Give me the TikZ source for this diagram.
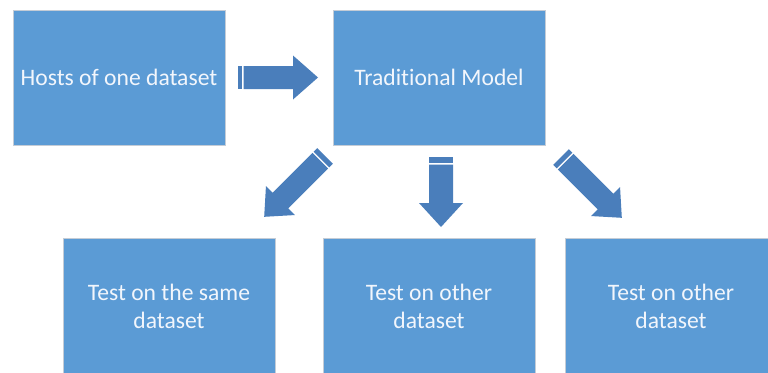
\documentclass[tikz,border=0pt]{standalone}
\usepackage{fontspec}
\setmainfont{Carlito}[Ligatures=NoCommon]
\definecolor{boxblue}{RGB}{91,155,213}
\definecolor{arrowblue}{RGB}{74,126,187}
\definecolor{boxedge}{RGB}{196,204,214}
\definecolor{textwhite}{RGB}{242,246,252}
\tikzset{
  block/.style={draw=boxedge, line width=0.8pt, fill=boxblue, minimum width=212pt,
    minimum height=135pt, inner sep=0pt, text=textwhite, font=\fontsize{23.6}{28}\selectfont,
    align=center},
  % striped block arrow along +x: length, body half width, head half width, head length, stripe width
  pics/barrow/.style n args={5}{code={
    \fill[arrowblue] (0,-#2) rectangle (#5,#2);
    \fill[arrowblue] (#5+1.6,-#2) -- (#1-#4,-#2) -- (#1-#4,-#3) -- (#1,0)
      -- (#1-#4,#3) -- (#1-#4,#2) -- (#5+1.6,#2) -- cycle;
  }}
}
\begin{document}
\begin{tikzpicture}[x=1pt,y=-1pt]
  \useasboundingbox (0,0) rectangle (768,372);
  \fill[white] (0,0) rectangle (768,372);
  \begin{scope}
    \clip (0,0) rectangle (768,372);
    \node[block] (hosts) at (119,77.5) {Hosts of one dataset};
    \node[block] (model) at (439,77.5) {Traditional Model};
    \node[block] (same) at (169,306) {Test on the same\\dataset};
    \node[block] (other1) at (429,306) {Test on other\\dataset};
    \node[block] (other2) at (671,306) {Test on other\\dataset};
  \end{scope}
  % arrows between the stages
  \coordinate (a1) at (238,77.5);
  \coordinate (a2) at (325,156);
  \coordinate (a3) at (441,157);
  \coordinate (a4) at (561,157);
  \pic at (a1) {barrow={80}{11.5}{22}{25}{4}};
  \pic[rotate=-135] at (a2) {barrow={86}{11}{20.5}{23}{5}};
  \pic[rotate=-90] at (a3) {barrow={70}{12}{22}{24}{6}};
  \pic[rotate=-45] at (a4) {barrow={86}{11}{20.5}{23}{5}};
\end{tikzpicture}
\end{document}
